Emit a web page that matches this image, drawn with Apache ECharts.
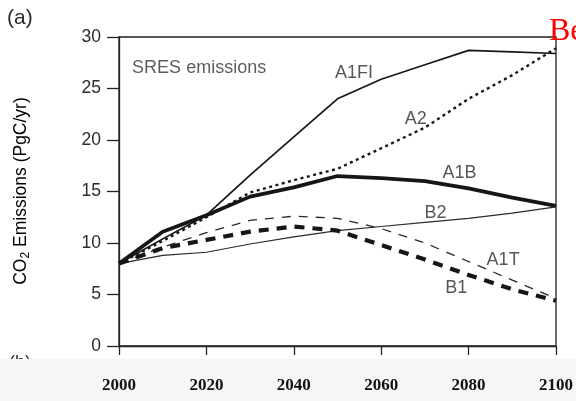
<!DOCTYPE html>
<html>
<head>
<meta charset="utf-8">
<script src="https://cdn.jsdelivr.net/npm/echarts@6/dist/echarts.min.js"></script>
<style>
  html, body { margin: 0; padding: 0; background: #ffffff; }
  #chart { width: 576px; height: 401px; }
</style>
</head>
<body>
<div id="chart"></div>
<script>
// Years sampled for each SRES scenario (decadal)
const years = [2000, 2010, 2020, 2030, 2040, 2050, 2060, 2070, 2080, 2090, 2100];

// CO2 emissions, PgC/yr
const a1fi = [8.0, 10.4, 12.7, 16.6, 20.3, 24.0, 25.9, 27.3, 28.7, 28.55, 28.4];
const a2   = [8.0, 10.2, 12.5, 14.9, 16.1, 17.2, 19.2, 21.2, 24.0, 26.3, 28.9];
const a1b  = [8.0, 11.1, 12.7, 14.5, 15.4, 16.5, 16.3, 16.0, 15.3, 14.4, 13.6];
const b2   = [8.0, 8.8, 9.1, 9.9, 10.6, 11.2, 11.6, 12.0, 12.4, 12.9, 13.5];
const a1t  = [8.0, 9.6, 11.0, 12.2, 12.6, 12.4, 11.4, 10.0, 8.2, 6.4, 4.6];
const b1   = [8.0, 9.5, 10.3, 11.1, 11.6, 11.2, 9.8, 8.4, 6.9, 5.5, 4.4];

// Axis ticks
const xTicks = [2000, 2020, 2040, 2060, 2080, 2100];
const yTicks = [0, 5, 10, 15, 20, 25, 30];

// Scenario names and where each name sits on the plot (year, PgC/yr)
const curveNames = ['A1FI', 'A2', 'A1B', 'B2', 'A1T', 'B1'];
const nameYears  = [2053.8, 2067.9, 2077.9, 2072.4, 2087.9, 2077.2];
const nameValues = [26.5, 22.0, 16.75, 12.95, 8.37, 5.65];

const pair = vals => years.map((y, i) => [y, vals[i]]);
const ink = '#161616';
const textInk = '#2c2c2c';

function lineSeries(name, vals, width, type, color) {
  return {
    name: name,
    type: 'line',
    data: pair(vals),
    symbol: 'none',
    smooth: false,
    silent: true,
    lineStyle: { width: width, type: type, color: color || ink, cap: 'butt', join: 'round' },
    z: 3
  };
}

const chart = echarts.init(document.getElementById('chart'), null, { renderer: 'canvas' });

chart.setOption({
  animation: false,
  backgroundColor: '#ffffff',
  grid: {
    left: 119, right: 18, top: 37, bottom: 55,
    show: true, borderColor: '#222222', borderWidth: 1.3, backgroundColor: 'transparent'
  },
  xAxis: {
    type: 'value',
    min: xTicks[0], max: xTicks[xTicks.length - 1], interval: 20,
    z: 10,
    axisLine: { show: true, onZero: false, lineStyle: { color: '#222222', width: 1.3 } },
    axisTick: { show: true, length: 9, lineStyle: { color: '#222222', width: 1.3 } },
    splitLine: { show: false },
    axisLabel: {
      show: true, margin: 31,
      fontFamily: 'Liberation Serif', fontWeight: 'bold', fontSize: 17, color: '#111111',
      formatter: v => String(v)
    }
  },
  yAxis: {
    type: 'value',
    min: yTicks[0], max: yTicks[yTicks.length - 1], interval: 5,
    axisLine: { show: true, lineStyle: { color: '#222222', width: 1.3 } },
    axisTick: { show: true, length: 12, lineStyle: { color: '#222222', width: 1.3 } },
    splitLine: { show: false },
    axisLabel: {
      show: true, margin: 18,
      fontFamily: 'Liberation Sans', fontSize: 17.5, color: textInk
    }
  },
  series: [
    lineSeries('A1FI', a1fi, 1.7, 'solid'),
    lineSeries('A2', a2, 2.4, [3, 3.5]),
    lineSeries('A1B', a1b, 3.7, 'solid'),
    lineSeries('B2', b2, 1.2, 'solid', '#2a2a2a'),
    lineSeries('A1T', a1t, 1.3, [9, 8], '#2a2a2a'),
    lineSeries('B1', b1, 4.2, [10, 8]),
    {
      name: 'names',
      type: 'scatter',
      silent: true,
      symbolSize: 0,
      data: curveNames.map((n, i) => ({ value: [nameYears[i], nameValues[i]], name: n })),
      label: {
        show: true, position: 'inside', formatter: p => p.name,
        fontFamily: 'Liberation Sans', fontSize: 18, color: textInk
      },
      z: 5
    },
    {
      name: 'title',
      type: 'scatter',
      silent: true,
      symbolSize: 0,
      data: [{ value: [2003, 27.0], name: 'SRES emissions' }],
      label: {
        show: true, position: 'inside', align: 'left', formatter: p => p.name,
        fontFamily: 'Liberation Sans', fontSize: 18, color: '#333333'
      },
      z: 5
    }
  ],
  graphic: [
    // panel tag, mostly hidden by the caption strip below
    { type: 'text', left: 9, top: 354, z: 1,
      style: { text: '(b)', font: '18px "Liberation Sans"', fill: '#333333' } },
    // light caption strip carrying the year labels
    { type: 'rect', shape: { x: 0, y: 359, width: 576, height: 42 }, z: 2,
      style: { fill: '#f6f6f6' } },
    { type: 'text', left: 7, top: 8, z: 3,
      style: { text: '(a)', font: '21px "Liberation Sans"', fill: textInk } },
    { type: 'text', x: 21, y: 191, rotation: Math.PI / 2, z: 3,
      style: {
        text: '{a|CO}{s|2}{a| Emissions (PgC/yr)}',
        align: 'center', verticalAlign: 'middle',
        rich: {
          a: { fontFamily: 'Liberation Sans', fontSize: 17.5, color: textInk, lineHeight: 22 },
          s: { fontFamily: 'Liberation Sans', fontSize: 12, color: textInk, lineHeight: 22,
               verticalAlign: 'bottom', padding: [8, 0, 0, 0] }
        }
      } },
    { type: 'text', left: 549, top: 16, z: 6,
      style: { text: 'Be', font: '32px "Liberation Serif"', fill: '#ff0000' } }
  ]
});
</script>
</body>
</html>
